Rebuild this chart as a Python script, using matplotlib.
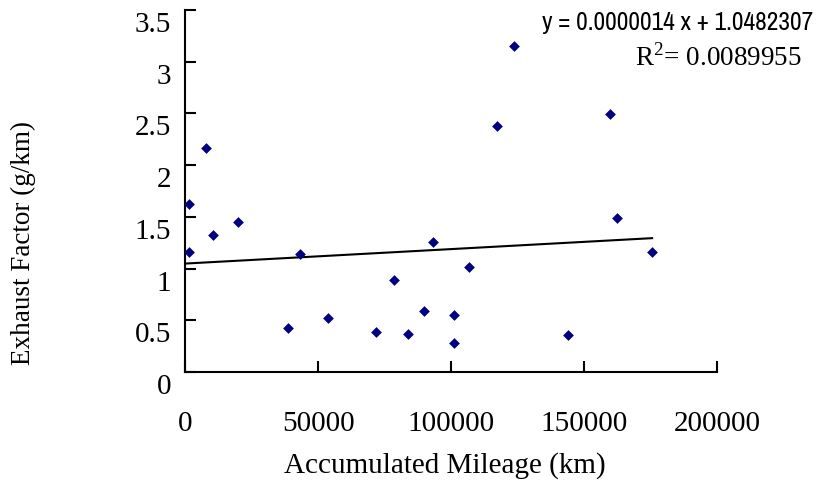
import matplotlib
matplotlib.use("Agg")
import matplotlib.pyplot as plt
from matplotlib import transforms
import numpy as np

mileage = [1500, 1500, 7900, 10600, 19800, 38600, 43200, 53600, 71800, 78700,
           83900, 89800, 93300, 101200, 101200, 106900, 117400, 123800,
           143900, 159800, 162400, 175600]
exhaust = [1.625, 1.16, 2.167, 1.327, 1.447, 0.426, 1.143, 0.523, 0.385, 0.885,
           0.368, 0.594, 1.253, 0.555, 0.284, 1.017, 2.377, 3.149,
           0.362, 2.49, 1.486, 1.156]
slope = 0.0000014
intercept = 1.0482307
r2 = 0.0089955
xticks = [0, 50000, 100000, 150000, 200000]
yticks = [0, 0.5, 1, 1.5, 2, 2.5, 3, 3.5]
ytick_labels = ['0', '0.5', '1', '1.5', '2', '2.5', '3', '3.5']

serif = ["Liberation Serif", "DejaVu Serif"]
plt.rcParams['font.family'] = serif
plt.rcParams['mathtext.fontset'] = 'custom'
plt.rcParams['mathtext.rm'] = 'Liberation Serif'

fig = plt.figure(figsize=(8.18, 4.82), dpi=100)
ax = fig.add_axes([185/818, 1-372/482, 532/818, 362/482])

ax.scatter(mileage, exhaust, marker='D', s=30, color='#000080', zorder=3, linewidths=0)
xl = np.array([0, max(mileage)])
ax.plot(xl, slope*xl + intercept, color='black', lw=1.5)

ax.set_xlim(0, 200000)
ax.set_ylim(0, 3.5)
ax.set_xticks(xticks)
ax.set_xticklabels([str(t) for t in xticks])
ax.set_yticks(yticks)
ax.set_yticklabels(ytick_labels)
for s in ['top', 'right']:
    ax.spines[s].set_visible(False)
for s in ['left', 'bottom']:
    ax.spines[s].set_linewidth(1.5)
ax.tick_params(axis='both', direction='in', length=8, width=1.5, labelsize=21)
ax.tick_params(axis='x', pad=28)
ax.tick_params(axis='y', pad=10)
shift = transforms.ScaledTranslation(0, -12/100, fig.dpi_scale_trans)
for lab in ax.get_yticklabels():
    lab.set_transform(lab.get_transform() + shift)

fig.text(445/818, 1-466/482, 'Accumulated Mileage (km)', ha='center', va='center', fontsize=21)
fig.text(23/818, 1-243/482, 'Exhaust Factor (g/km)', ha='center', va='center', rotation=90, fontsize=19.5)

fig.text(813/818, 1-22/482, 'y = 0.0000014 x + 1.0482307', ha='right', va='center', fontsize=18.3,
         family=['Archivo Narrow', 'DejaVu Sans'])
fig.text(802/818, 1-58/482, r'R$^{2}$= 0.0089955', ha='right', va='center', fontsize=19.5)

fig.savefig('out.png', dpi=100)
